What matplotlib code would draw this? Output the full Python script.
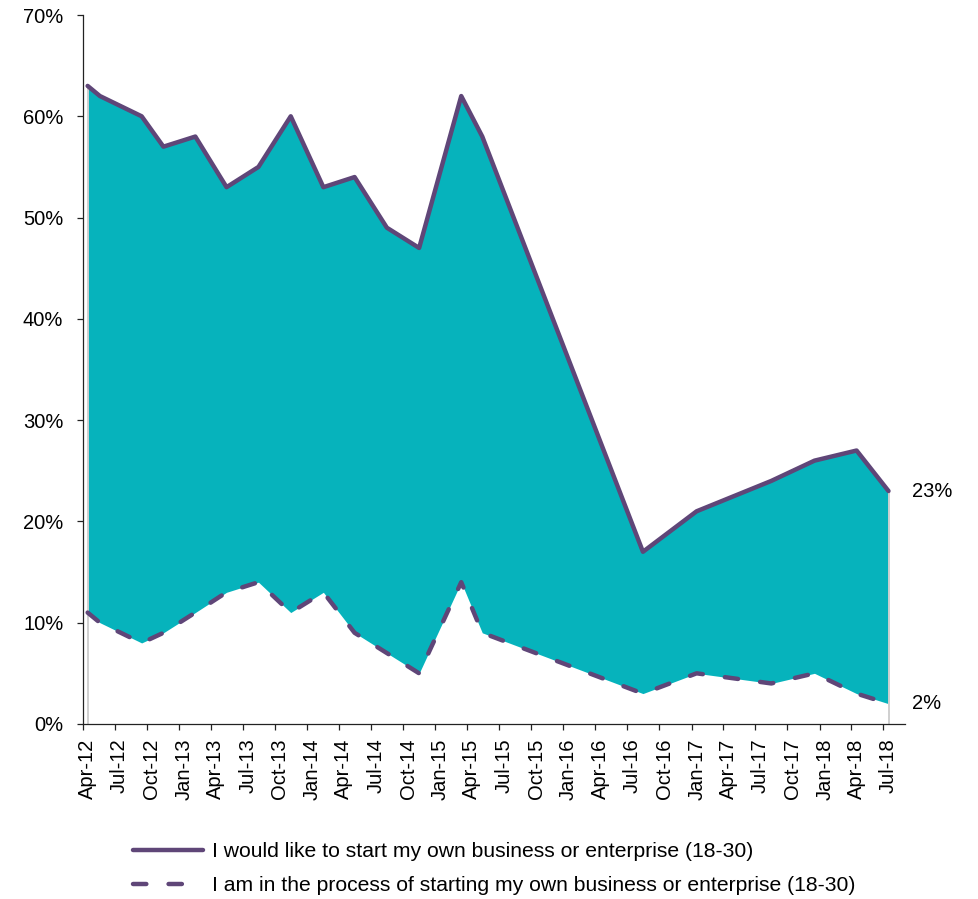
import pandas as pd
import matplotlib
matplotlib.use("Agg")
import matplotlib.pyplot as plt
import matplotlib.dates as mdates
from matplotlib.ticker import FuncFormatter, MultipleLocator
from matplotlib.transforms import ScaledTranslation

plt.rcParams["font.family"] = ["Liberation Sans", "DejaVu Sans"]

# survey waves (irregular), values in %
WAVE_DATES = ["2012-04-15", "2012-05-20", "2012-09-16", "2012-11-17", "2013-02-16",
              "2013-05-16", "2013-08-15", "2013-11-15", "2014-02-16", "2014-05-16",
              "2014-08-16", "2014-11-16", "2015-03-16", "2015-05-15", "2016-08-15",
              "2017-01-15", "2017-08-16", "2017-12-17", "2018-04-16", "2018-07-16"]
WOULD_LIKE = [63, 62, 60, 57, 58, 53, 55, 60, 53, 54, 49, 47, 62, 58, 17, 21, 24, 26, 27, 23]
IN_PROCESS = [11, 10, 8, 9, 11, 13, 14, 11, 13, 9, 7, 5, 14, 9, 3, 5, 4, 5, 3, 2]

LABEL_WOULD = "I would like to start my own business or enterprise (18-30)"
LABEL_PROCESS = "I am in the process of starting my own business or enterprise (18-30)"

TEAL = "#06B3BC"
PURPLE = "#5F4678"
FS = 14.5
FS_LEG = 15.2

dates = pd.to_datetime(WAVE_DATES)

fig = plt.figure(figsize=(9.79, 8.99), dpi=100)
ax = fig.add_axes([0.0845, 0.1947, 0.8399, 0.7886])

ax.fill_between(dates, IN_PROCESS, WOULD_LIKE, color=TEAL, lw=0, zorder=1)
ax.vlines([dates[0], dates[-1]], 0, [WOULD_LIKE[0], WOULD_LIKE[-1]],
          colors="#cfcfcf", lw=1.4, zorder=1.5)
ax.plot(dates, WOULD_LIKE, color=PURPLE, lw=3.2, solid_capstyle="round",
        solid_joinstyle="round", label=LABEL_WOULD, zorder=3)
ax.plot(dates, IN_PROCESS, color=PURPLE, lw=3.2, dashes=(3.0, 5.0),
        dash_capstyle="round", dash_joinstyle="round", label=LABEL_PROCESS, zorder=3)

for vals in (WOULD_LIKE, IN_PROCESS):
    ax.annotate(f"{vals[-1]}%", xy=(dates[-1], vals[-1]), xytext=(23, 0),
                textcoords="offset pixels", ha="left", va="center",
                fontsize=FS, annotation_clip=False)

ax.set_xlim(pd.Timestamp("2012-04-01"), pd.Timestamp("2018-09-01"))
ax.set_ylim(0, 70)
ax.yaxis.set_major_locator(MultipleLocator(10))
ax.yaxis.set_major_formatter(FuncFormatter(lambda v, p: f"{v:.0f}%"))
ax.xaxis.set_major_locator(mdates.MonthLocator(bymonth=[1, 4, 7, 10]))
ax.xaxis.set_major_formatter(mdates.DateFormatter("%b-%y"))

for side in ("top", "right"):
    ax.spines[side].set_visible(False)
for side in ("left", "bottom"):
    ax.spines[side].set_linewidth(0.9)
    ax.spines[side].set_color("#222222")

ax.tick_params(axis="y", length=4.5, width=0.9, pad=9.5, labelsize=FS, color="#222222")
ax.tick_params(axis="x", length=4, width=0.9, pad=6.5, labelsize=FS, labelrotation=90,
               color="#222222")
shift = ScaledTranslation(5 / 100, 0, fig.dpi_scale_trans)
for lab in ax.get_xticklabels():
    lab.set_transform(lab.get_transform() + shift)

fig.legend(loc="upper left", bbox_to_anchor=(133 / 979, 1 - 842 / 899),
           frameon=False, fontsize=FS_LEG, handlelength=3.3, handletextpad=0.45,
           labelspacing=0.72, borderpad=0, borderaxespad=0)

fig.savefig("out.png", dpi=100)
